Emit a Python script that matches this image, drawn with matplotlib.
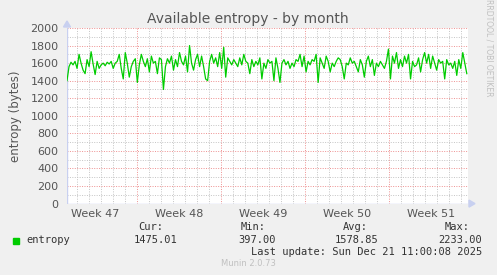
import numpy as np
import matplotlib
matplotlib.use("Agg")
import matplotlib.pyplot as plt
from matplotlib.ticker import MultipleLocator

# ---- data ----
entropy_values = [
    1400, 1560, 1610, 1580, 1620, 1540, 1700, 1600, 1520, 1480, 1640, 1560, 1730, 1590, 1470, 1620, 1540,
    1580, 1600, 1570, 1610, 1590, 1620, 1540, 1600, 1620, 1700, 1540, 1420, 1720, 1600, 1440, 1560, 1620,
    1650, 1380, 1580, 1700, 1620, 1560, 1650, 1500, 1680, 1600, 1620, 1480, 1660, 1640, 1300, 1560, 1650,
    1600, 1680, 1520, 1640, 1560, 1720, 1620, 1580, 1680, 1500, 1800, 1600, 1520, 1640, 1700, 1560, 1680,
    1560, 1420, 1400, 1620, 1700, 1600, 1660, 1560, 1720, 1540, 1780, 1440, 1660, 1620, 1580, 1640, 1600,
    1560, 1660, 1580, 1700, 1620, 1600, 1480, 1640, 1560, 1620, 1580, 1660, 1420, 1600, 1540, 1640, 1600,
    1620, 1400, 1660, 1540, 1380, 1600, 1640, 1580, 1620, 1540, 1600, 1560, 1640, 1620, 1700, 1560, 1680,
    1500, 1620, 1580, 1640, 1620, 1700, 1380, 1660, 1600, 1540, 1680, 1620, 1500, 1600, 1560, 1620, 1660,
    1640, 1560, 1420, 1600, 1580, 1660, 1600, 1620, 1560, 1500, 1640, 1580, 1440, 1620, 1680, 1560, 1640,
    1460, 1600, 1560, 1620, 1580, 1540, 1620, 1760, 1420, 1680, 1600, 1720, 1540, 1640, 1560, 1680, 1600,
    1700, 1420, 1620, 1560, 1580, 1660, 1500, 1640, 1720, 1600, 1700, 1540, 1680, 1600, 1520, 1640, 1600,
    1620, 1420, 1640, 1580, 1600, 1540, 1620, 1460, 1640, 1540, 1720, 1600, 1480,
]
week_labels = ["Week 47", "Week 48", "Week 49", "Week 50", "Week 51"]
week_starts = [-7, 0, 7, 14, 21]          # days relative to Mon Nov 24
legend_stats = {"Cur:": "1475.01", "Min:": "397.00", "Avg:": "1578.85", "Max:": "2233.00"}
series_name = "entropy"

# time axis (days)
x_start, x_end = -5.85, 27.55
t = np.linspace(x_start, x_end - 0.1, len(entropy_values))

W, H = 497, 275
fig = plt.figure(figsize=(W / 100, H / 100), dpi=100, facecolor="#F0F0F0")
L, R, T, B = 67, 468, 28, 203.6
ax = fig.add_axes([L / W, 1 - B / H, (R - L) / W, (B - T) / H])
ax.set_facecolor("white")

ax.set_xlim(x_start, x_end)
ax.set_ylim(0, 2000)

# grid
minor_c = "#c4c4c4"
major_c = "#ee9090"
dots = (0, (1, 1.5))
for d in np.arange(np.ceil(x_start), x_end, 1):
    if d % 7 != 0:
        ax.axvline(d, color=minor_c, lw=0.7, ls=dots, zorder=1)
for v in range(100, 2001, 100):
    if v % 200 != 0:
        ax.axhline(v, color=minor_c, lw=0.7, ls=dots, zorder=1)
for v in range(200, 2001, 200):
    ax.axhline(v, color=major_c, lw=0.7, ls=dots, zorder=1)
for w in week_starts:
    if x_start < w < x_end:
        ax.axvline(w, color=major_c, lw=0.7, ls=dots, zorder=1)

ax.plot(t, entropy_values, color="#00CC00", lw=0.9, zorder=3)

for s in ax.spines.values():
    s.set_visible(False)
ax.axhline(0, color="#c8d0f0", lw=1.0, zorder=2)
ax.axvline(x_start, color="#c8d0f0", lw=1.0, zorder=2)

# arrows
fig.patches.append(plt.Polygon([[(R + 1) / W, 1 - (B - 3.5) / H], [(R + 1) / W, 1 - (B + 3.5) / H],
                                [(R + 7) / W, 1 - B / H]], closed=True, transform=fig.transFigure,
                               color="#c8d0f0", zorder=5))
fig.patches.append(plt.Polygon([[(L - 3.5) / W, 1 - (T - 1) / H], [(L + 3.5) / W, 1 - (T - 1) / H],
                                [L / W, 1 - (T - 7) / H]], closed=True, transform=fig.transFigure,
                               color="#c8d0f0", zorder=5))

ax.yaxis.set_major_locator(MultipleLocator(200))
ax.tick_params(axis="y", length=0, labelsize=8, labelcolor="#555555", pad=6)
ax.set_xticks([w + 3.5 for w in week_starts])
ax.set_xticklabels(week_labels)
ax.tick_params(axis="x", length=0, labelsize=8, labelcolor="#555555", pad=4)
ax.set_ylabel("entropy (bytes)", fontsize=8.5, color="#555555", labelpad=6)

fig.text(248 / W, 1 - 19 / H, "Available entropy - by month", ha="center", va="center",
         fontsize=10, color="#555555")
fig.text(489 / W, 1 - 48 / H, "RRDTOOL / TOBI OETIKER", rotation=270, ha="center", va="center",
         fontsize=5.5, color="#c0c0c0")

mono = "DejaVu Sans Mono"
fig.patches.append(plt.Rectangle((13 / W, 1 - 244 / H), 6 / W, 6 / H, transform=fig.transFigure,
                                 color="#00CC00"))
fig.text(26 / W, 1 - 240 / H, series_name, ha="left", va="center", fontsize=7.5,
         family=mono, color="#333333")
head_x = [163, 266, 368, 470]
val_x = [177, 276, 378, 482]
for (k, v), hx, vx in zip(legend_stats.items(), head_x, val_x):
    fig.text(hx / W, 1 - 227 / H, k, ha="right", va="center", fontsize=7.5, family=mono, color="#333333")
    fig.text(vx / W, 1 - 240 / H, v, ha="right", va="center", fontsize=7.5, family=mono, color="#333333")
fig.text(482 / W, 1 - 252 / H, "Last update: Sun Dec 21 11:00:08 2025", ha="right", va="center",
         fontsize=7.5, family=mono, color="#333333")
fig.text(248 / W, 1 - 264 / H, "Munin 2.0.73", ha="center", va="center", fontsize=6,
         color="#c0c0c0")

fig.savefig("out.png", dpi=100, facecolor=fig.get_facecolor())
